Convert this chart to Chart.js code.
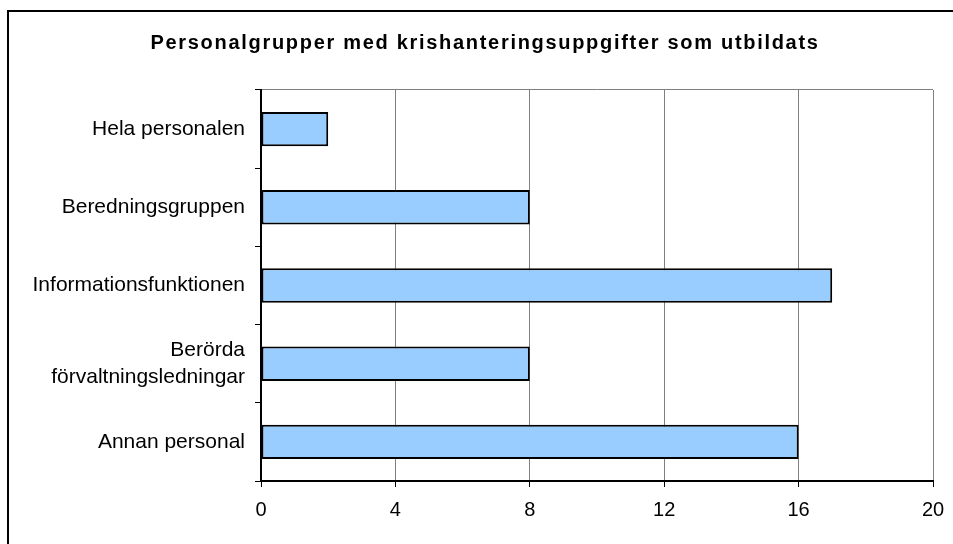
<!DOCTYPE html>
<html>
<head>
<meta charset="utf-8">
<script src="https://cdn.jsdelivr.net/npm/chart.js@4"></script>
<style>
  html, body { margin: 0; padding: 0; background: #fff; }
  #wrap { position: relative; width: 953px; height: 544px; }
</style>
</head>
<body>
<div id="wrap"><canvas id="chart" width="953" height="544"></canvas></div>
<script>
// Data
const chartTitle = 'Personalgrupper med krishanteringsuppgifter som utbildats';
const categories = [
    'Hela personalen',
    'Beredningsgruppen',
    'Informationsfunktionen',
    ['Berörda', 'förvaltningsledningar'],
    'Annan personal'
];
const counts = [2, 8, 17, 8, 16];
const xTicks = [0, 4, 8, 12, 16, 20];

const fontFamily = '"Liberation Sans", Arial, sans-serif';

// Title with letter spacing + outer frame (left and top edge only)
const framePlugin = {
    id: 'frame',
    afterDraw(chart) {
        const ctx = chart.ctx;
        ctx.save();
        ctx.strokeStyle = '#000';
        ctx.lineWidth = 2;
        ctx.beginPath();
        ctx.moveTo(8, 544);
        ctx.lineTo(8, 11);
        ctx.lineTo(953, 11);
        ctx.stroke();

        ctx.fillStyle = '#000';
        ctx.font = 'bold 20px ' + fontFamily;
        ctx.letterSpacing = '1.7px';
        ctx.textAlign = 'center';
        ctx.textBaseline = 'middle';
        ctx.fillText(chartTitle, 485, 43);
        ctx.restore();
    }
};

const ctx = document.getElementById('chart').getContext('2d');
new Chart(ctx, {
    type: 'bar',
    data: {
        labels: categories,
        datasets: [
            {
                data: counts,
                backgroundColor: '#99CCFF',
                borderColor: '#000',
                borderWidth: 2,
                borderSkipped: false,
                categoryPercentage: 1,
                barPercentage: 0.44
            }
        ]
    },
    options: {
        indexAxis: 'y',
        responsive: false,
        animation: false,
        layout: { padding: { left: 0, right: 20, top: 90, bottom: 0 } },
        plugins: {
            legend: { display: false },
            title: { display: false },
            tooltip: { enabled: false }
        },
        scales: {
            x: {
                min: 0,
                max: 20,
                afterBuildTicks: (scale) => {
                    scale.ticks = xTicks.map(v => ({ value: v }));
                },
                afterFit: (scale) => {
                    scale.height = 63;
                    scale.paddingLeft = 0;
                    scale.paddingRight = 0;
                },
                grid: {
                    color: '#808080',
                    lineWidth: 1,
                    tickLength: 6,
                    tickColor: '#000'
                },
                border: { color: '#000', width: 2 },
                ticks: {
                    color: '#000',
                    padding: 11,
                    maxRotation: 0,
                    font: { family: fontFamily, size: 20, lineHeight: 1.2 }
                }
            },
            y: {
                afterFit: (scale) => { scale.width = 261; },
                grid: {
                    color: (c) => c.index === 0 ? '#808080' : 'rgba(0,0,0,0)',
                    lineWidth: 1,
                    tickLength: 6,
                    tickColor: '#000'
                },
                border: { color: '#000', width: 2 },
                ticks: {
                    color: '#000',
                    padding: 10,
                    font: { family: fontFamily, size: 21, lineHeight: 1.33 }
                }
            }
        }
    },
    plugins: [framePlugin]
});
</script>
</body>
</html>
